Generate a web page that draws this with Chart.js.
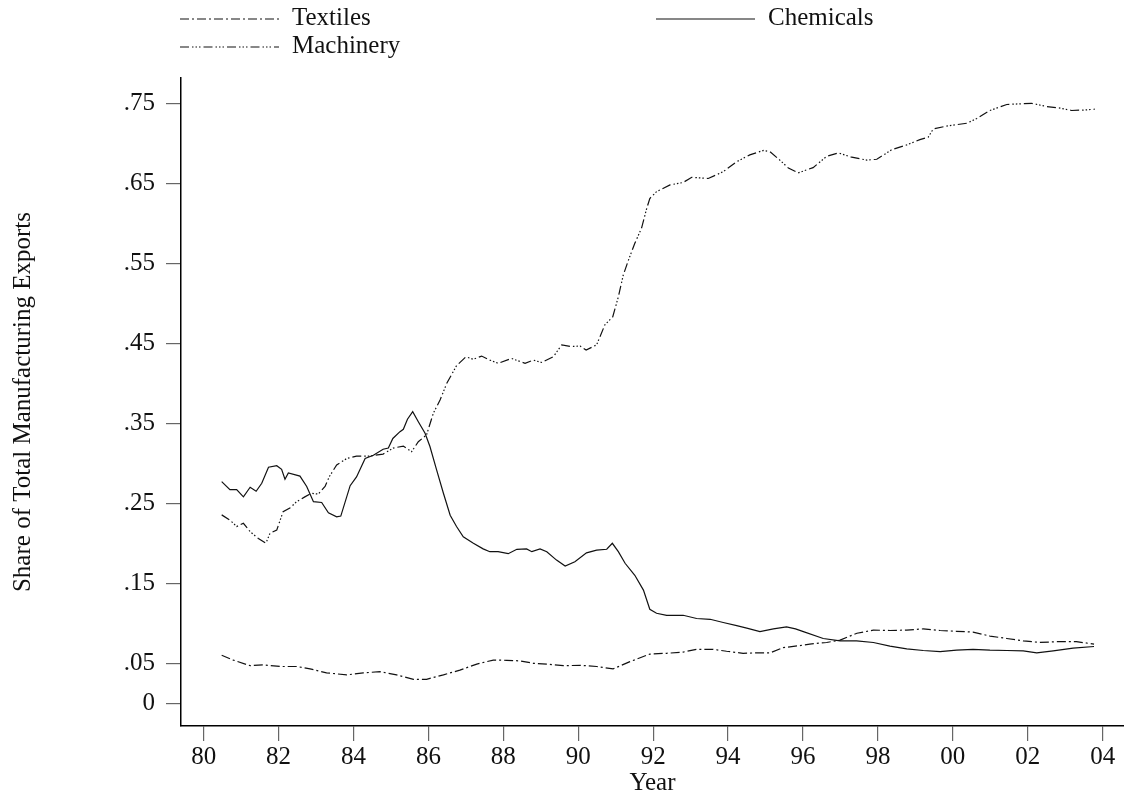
<!DOCTYPE html>
<html>
<head>
<meta charset="utf-8">
<title>Share of Total Manufacturing Exports</title>
<script src="https://cdn.jsdelivr.net/npm/chart.js@4.4.1/dist/chart.umd.min.js"></script>
<style>
  html, body { margin: 0; padding: 0; background: #fff; }
  #wrap { width: 1124px; height: 796px; }
</style>
</head>
<body>
<div id="wrap"><canvas id="chart" width="1124" height="796"></canvas></div>
<script>
// values, year as decimal
var chemYears = [1980.48,1980.70,1980.88,1981.06,1981.24,1981.40,1981.55,1981.73,1981.95,1982.08,1982.17,1982.26,1982.57,1982.75,1982.93,1983.15,1983.33,1983.55,1983.66,1983.91,1984.08,1984.31,1984.53,1984.79,1984.93,1985.05,1985.24,1985.33,1985.44,1985.58,1985.73,1985.91,1986.04,1986.22,1986.40,1986.58,1986.75,1986.93,1987.20,1987.46,1987.64,1987.86,1988.13,1988.36,1988.62,1988.76,1988.98,1989.16,1989.42,1989.65,1989.91,1990.22,1990.49,1990.76,1990.91,1991.07,1991.25,1991.51,1991.74,1991.91,1992.09,1992.36,1992.80,1993.16,1993.52,1993.87,1994.23,1994.50,1994.85,1995.21,1995.56,1995.80,1996.01,1996.54,1996.99,1997.43,1997.88,1998.32,1998.77,1999.21,1999.66,2000.10,2000.54,2000.99,2001.44,2001.88,2002.24,2002.68,2003.21,2003.77];
var chemShare = [.277,.267,.267,.258,.270,.265,.275,.295,.297,.2925,.280,.288,.284,.271,.252,.251,.238,.233,.234,.272,.283,.306,.310,.3175,.319,.331,.3395,.3425,.355,.3645,.352,.3375,.321,.2915,.2625,.235,.221,.208,.200,.193,.1895,.1895,.187,.1925,.193,.1895,.193,.1895,.179,.1715,.177,.188,.1915,.1925,.200,.1895,.175,.160,.1415,.1175,.1125,.110,.110,.106,.105,.101,.097,.094,.0895,.093,.0955,.093,.0895,.081,.078,.078,.076,.0715,.068,.066,.0645,.0665,.0675,.0665,.066,.0655,.063,.0655,.069,.071];

var textYears = [1980.48,1980.79,1981.24,1981.59,1982.04,1982.48,1982.84,1983.28,1983.82,1984.26,1984.71,1985.15,1985.60,1985.95,1986.40,1986.84,1987.29,1987.73,1988.09,1988.44,1988.80,1989.16,1989.60,1990.05,1990.49,1990.93,1991.38,1991.91,1992.36,1992.80,1993.16,1993.60,1993.96,1994.40,1994.76,1995.12,1995.47,1995.90,1996.18,1996.63,1996.99,1997.44,1997.88,1998.32,1998.77,1999.21,1999.66,2000.10,2000.54,2000.99,2001.44,2001.88,2002.32,2002.77,2003.30,2003.77];
var textShare = [.060,.054,.047,.048,.046,.046,.043,.038,.0355,.038,.0395,.0355,.030,.030,.0355,.0415,.049,.054,.0537,.053,.050,.049,.047,.0475,.046,.043,.052,.0615,.0625,.064,.0675,.0675,.065,.0625,.063,.063,.0695,.072,.074,.076,.079,.0875,.0915,.091,.0915,.093,.091,.090,.089,.084,.081,.078,.076,.077,.077,.074];

var machYears = [1980.48,1980.70,1980.88,1981.06,1981.24,1981.46,1981.66,1981.77,1981.95,1982.12,1982.30,1982.48,1982.70,1982.88,1983.06,1983.24,1983.35,1983.55,1983.82,1984.08,1984.44,1984.79,1985.06,1985.33,1985.55,1985.73,1985.95,1986.13,1986.31,1986.49,1986.75,1987.00,1987.20,1987.42,1987.64,1987.86,1988.22,1988.58,1988.80,1989.02,1989.33,1989.56,1989.78,1990.05,1990.21,1990.49,1990.71,1990.92,1991.07,1991.20,1991.34,1991.51,1991.69,1991.83,1991.91,1992.09,1992.45,1992.80,1993.03,1993.47,1993.87,1994.23,1994.58,1994.94,1995.12,1995.38,1995.61,1995.87,1996.27,1996.63,1996.94,1997.30,1997.70,1997.97,1998.37,1998.77,1999.12,1999.34,1999.48,1999.83,2000.37,2000.64,2000.99,2001.44,2001.88,2002.10,2002.50,2002.86,2003.17,2003.48,2003.79];
var machShare = [.2355,.229,.221,.225,.2145,.206,.200,.2125,.2165,.2395,.244,.252,.258,.2625,.2615,.271,.283,.298,.306,.309,.309,.3115,.319,.3215,.3145,.327,.3355,.3625,.379,.400,.422,.433,.430,.434,.429,.425,.431,.425,.429,.426,.433,.448,.446,.4465,.4415,.448,.473,.483,.508,.535,.554,.575,.594,.619,.631,.6395,.648,.651,.6575,.656,.6645,.677,.6855,.691,.6895,.679,.669,.663,.6696,.6836,.688,.6826,.679,.680,.692,.698,.7045,.7075,.718,.7215,.725,.731,.741,.7485,.7495,.750,.746,.744,.741,.7415,.7426];

var xTicks = [1980,1982,1984,1986,1988,1990,1992,1994,1996,1998,2000,2002,2004];
var yTicks = [0,.05,.15,.25,.35,.45,.55,.65,.75];

var FONT = "'Liberation Serif', 'Times New Roman', serif";
var INK = '#111';

function toPoints(xs, ys) {
    var pts = [];
    for (var i = 0; i < xs.length; i++) pts.push({x: xs[i], y: ys[i]});
    return pts;
}

var dashTextiles = [9, 3, 2, 3];
var dashMachinery = [9, 3, 1.5, 2, 1.5, 2, 1.5, 3];

// legend drawn by hand, two columns like the original
var legendPlugin = {
    id: 'handLegend',
    afterDraw: function (chart) {
        var ctx = chart.ctx;
        var items = [
            {label: 'Textiles',  dash: dashTextiles,  x: 180, y: 18},
            {label: 'Chemicals', dash: [],            x: 656, y: 18},
            {label: 'Machinery', dash: dashMachinery, x: 180, y: 46}
        ];
        ctx.save();
        ctx.font = '25px ' + FONT;
        ctx.textBaseline = 'middle';
        ctx.fillStyle = INK;
        items.forEach(function (it) {
            ctx.strokeStyle = INK;
            ctx.lineWidth = 1.2;
            ctx.setLineDash(it.dash);
            ctx.beginPath();
            ctx.moveTo(it.x, it.y + 1);
            ctx.lineTo(it.x + 99, it.y + 1);
            ctx.stroke();
            ctx.setLineDash([]);
            ctx.fillText(it.label, it.x + 112, it.y);
        });
        ctx.restore();
    }
};

var config = {
    type: 'line',
    data: {
        datasets: [{
            label: 'Textiles',
            data: toPoints(textYears, textShare),
            borderColor: INK,
            borderWidth: 1.2,
            borderDash: dashTextiles,
            pointRadius: 0,
            fill: false
        }, {
            label: 'Chemicals',
            data: toPoints(chemYears, chemShare),
            borderColor: INK,
            borderWidth: 1.2,
            pointRadius: 0,
            fill: false
        }, {
            label: 'Machinery',
            data: toPoints(machYears, machShare),
            borderColor: INK,
            borderWidth: 1.2,
            borderDash: dashMachinery,
            pointRadius: 0,
            fill: false
        }]
    },
    options: {
        responsive: false,
        devicePixelRatio: 1,
        animation: false,
        layout: { padding: { top: 78, right: 0, left: 0, bottom: 0 } },
        plugins: {
            legend: { display: false },
            tooltip: { enabled: false }
        },
        scales: {
            x: {
                type: 'linear',
                min: 1979.394,
                max: 2004.57,
                afterFit: function (s) { s.height = 70; },
                afterBuildTicks: function (s) {
                    s.ticks = xTicks.map(function (v) { return {value: v}; });
                },
                ticks: {
                    color: INK,
                    padding: 1,
                    maxRotation: 0,
                    autoSkip: false,
                    font: { family: FONT, size: 25 },
                    callback: function (v) { return String(v % 100).padStart(2, '0'); }
                },
                grid: { drawOnChartArea: false, drawTicks: true, tickLength: 15, color: '#666', lineWidth: 1.2 },
                border: { display: true, color: '#000', width: 1.5 },
                title: {
                    display: true,
                    text: 'Year',
                    color: INK,
                    font: { family: FONT, size: 25, lineHeight: 1 },
                    padding: { top: 0, bottom: 0 }
                }
            },
            y: {
                type: 'linear',
                min: -0.0284,
                max: 0.7816,
                afterFit: function (s) { s.width = 181; },
                afterBuildTicks: function (s) {
                    s.ticks = yTicks.map(function (v) { return {value: v}; });
                },
                ticks: {
                    color: INK,
                    padding: 11,
                    font: { family: FONT, size: 25 },
                    callback: function (v) { return v === 0 ? '0' : v.toFixed(2).replace(/^0/, ''); }
                },
                grid: { drawOnChartArea: false, drawTicks: true, tickLength: 15, color: '#666', lineWidth: 1.2 },
                border: { display: true, color: '#000', width: 1.5 },
                title: {
                    display: true,
                    text: 'Share of Total Manufacturing Exports',
                    color: INK,
                    font: { family: FONT, size: 25, lineHeight: 1 },
                    padding: { top: 11, bottom: 0 }
                }
            }
        }
    },
    plugins: [legendPlugin]
};

new Chart(document.getElementById('chart'), config);
</script>
</body>
</html>
